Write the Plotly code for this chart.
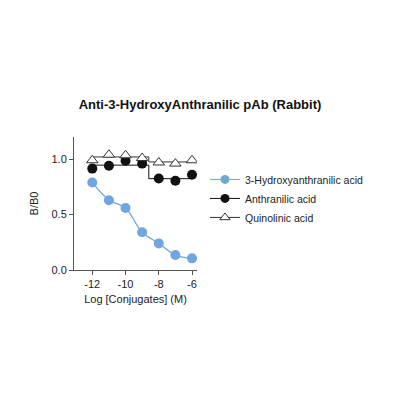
import plotly.graph_objects as go

# log concentrations
log_conc = [-12, -11, -10, -9, -8, -7, -6]
x_ticks = [-12, -10, -8, -6]
x_tick_text = ["-12", "-10", "-8", "-6"]

# B/B0 values
hydroxy = [0.79, 0.63, 0.56, 0.34, 0.24, 0.135, 0.105]
anthranilic = [0.915, 0.94, 0.985, 0.96, 0.825, 0.805, 0.86]
quinolinic = [0.99, 1.04, 1.035, 1.01, 0.97, 0.96, 0.99]

# fitted lines (step fits for the two flat ones)
fit_x = [-12, -8.6, -6]
anthranilic_fit = [0.946, 0.824, 0.824]
quinolinic_fit = [1.02, 0.975, 0.975]

blue = "#6fa6e0"
dark = "#111111"
grey = "#333333"
font_name = "Liberation Sans, Arial, sans-serif"

fig = go.Figure()

# fit lines
fig.add_trace(go.Scatter(x=log_conc, y=hydroxy, mode="lines", line=dict(color=blue, width=1.3, shape="spline"),
                         showlegend=False, hoverinfo="skip"))
fig.add_trace(go.Scatter(x=fit_x, y=anthranilic_fit, mode="lines", line=dict(color=dark, width=1, shape="hv"),
                         showlegend=False, hoverinfo="skip"))
fig.add_trace(go.Scatter(x=fit_x, y=quinolinic_fit, mode="lines", line=dict(color=grey, width=1, shape="hv"),
                         showlegend=False, hoverinfo="skip"))

# points
fig.add_trace(go.Scatter(x=log_conc, y=hydroxy, mode="markers", showlegend=False,
                         marker=dict(color=blue, size=10, symbol="circle")))
fig.add_trace(go.Scatter(x=log_conc, y=anthranilic, mode="markers", showlegend=False,
                         marker=dict(color=dark, size=10, symbol="circle")))
fig.add_trace(go.Scatter(x=log_conc, y=quinolinic, mode="markers", showlegend=False,
                         marker=dict(color="white", size=10, symbol="triangle-up",
                                     line=dict(color=grey, width=1))))

# legend entries (marker with a line through it)
fig.add_trace(go.Scatter(x=[None], y=[None], mode="markers+lines", name="3-Hydroxyanthranilic acid",
                         line=dict(color=blue, width=1), marker=dict(color=blue, size=9)))
fig.add_trace(go.Scatter(x=[None], y=[None], mode="markers+lines", name="Anthranilic acid",
                         line=dict(color=dark, width=1), marker=dict(color=dark, size=9)))
fig.add_trace(go.Scatter(x=[None], y=[None], mode="markers+lines", name="Quinolinic acid",
                         line=dict(color=grey, width=1),
                         marker=dict(color="white", size=9, symbol="triangle-up", line=dict(color=grey, width=1))))

fig.update_layout(
    width=400, height=400,
    paper_bgcolor="white", plot_bgcolor="white",
    margin=dict(l=66, r=211, t=129, b=138),
    font=dict(family=font_name, size=10, color="#222222"),
    title=dict(text="<b>Anti-3-HydroxyAnthranilic pAb (Rabbit)</b>", x=0.48, xanchor="center",
               y=0.76, yanchor="middle", font=dict(size=13, color="#111111")),
    legend=dict(x=1.065, y=0.79, xanchor="left", yanchor="top", font=dict(size=10.5, color="#222222"),
                bgcolor="rgba(0,0,0,0)", itemwidth=30, tracegroupgap=0),
    showlegend=True,
)

fig.update_xaxes(range=[-13.1, -5.7], tickvals=x_ticks, ticktext=x_tick_text, ticks="outside", ticklen=4,
                 showline=True, linecolor="#555555", linewidth=1, tickcolor="#555555",
                 tickfont=dict(size=11), showgrid=False, zeroline=False,
                 title=dict(text="Log [Conjugates] (M)", standoff=6, font=dict(size=11)))
fig.update_yaxes(range=[0, 1.2], tickvals=[0, 0.5, 1.0], tickformat=".1f", ticks="outside", ticklen=4,
                 showline=True, linecolor="#555555", linewidth=1, tickcolor="#555555",
                 tickfont=dict(size=11), showgrid=False, zeroline=False,
                 title=dict(text="B/B0", standoff=10, font=dict(size=11)))

fig.write_html("out.html")
